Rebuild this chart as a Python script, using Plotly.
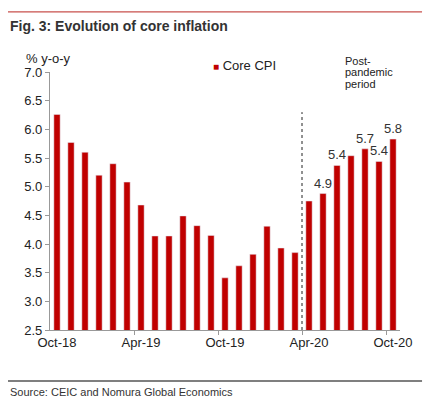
import plotly.graph_objects as go

# monthly core CPI, % y-o-y
months = ["Oct-18", "Nov-18", "Dec-18", "Jan-19", "Feb-19", "Mar-19", "Apr-19",
          "May-19", "Jun-19", "Jul-19", "Aug-19", "Sep-19", "Oct-19", "Nov-19",
          "Dec-19", "Jan-20", "Feb-20", "Mar-20", "Apr-20", "May-20", "Jun-20",
          "Jul-20", "Aug-20", "Sep-20", "Oct-20"]
core_cpi = [6.26, 5.77, 5.60, 5.20, 5.40, 5.08, 4.68, 4.14, 4.14, 4.49, 4.32, 4.15,
            3.41, 3.62, 3.82, 4.31, 3.93, 3.85, 4.75, 4.88, 5.37, 5.54, 5.66, 5.44, 5.83]
labelled = ["May-20", "Jun-20", "Aug-20", "Sep-20", "Oct-20"]
tick_labels = ["Oct-18", "Apr-19", "Oct-19", "Apr-20", "Oct-20"]
divider_month = "Apr-20"
divider_top = 6.3
period_note = ["Post-", "pandemic", "period"]

RED = "#C00000"
FONT = "Liberation Sans, Arial, sans-serif"

x = list(range(len(months)))
texts = [f"{v:.1f}" if m in labelled else "" for m, v in zip(months, core_cpi)]
tickvals = [months.index(m) for m in tick_labels]

fig = go.Figure()
fig.add_trace(go.Bar(
    x=x, y=core_cpi, name="Core CPI", marker_color=RED,
    text=texts, textposition="outside", cliponaxis=False, constraintext="none",
    textfont=dict(size=13, color="#333333"), showlegend=False,
))

xd = months.index(divider_month) - 0.5
fig.add_trace(go.Scatter(
    x=[xd, xd], y=[2.5, divider_top], mode="lines",
    line=dict(color="#222222", width=1, dash="dot"), showlegend=False,
    hoverinfo="skip",
))

annotations = [
    dict(text="<b>Fig. 3: Evolution of core inflation</b>", xref="paper", yref="paper",
         x=-0.12, y=1.18, xanchor="left", yanchor="middle", showarrow=False,
         font=dict(size=14, color="#333333")),
    dict(text="% y-o-y", xref="paper", yref="paper", x=-0.075, y=1.054,
         xanchor="left", yanchor="middle", showarrow=False, font=dict(size=13)),
    dict(text=f"<span style='color:{RED};font-size:10px'>■</span> Core CPI",
         xref="paper", yref="paper", x=0.46, y=1.027, xanchor="left",
         yanchor="middle", showarrow=False, font=dict(size=13)),
    dict(text="Source: CEIC and Nomura Global Economics", xref="paper", yref="paper",
         x=-0.12, y=-0.24, xanchor="left", yanchor="middle", showarrow=False,
         font=dict(size=11, color="#333333")),
]
for i, line in enumerate(period_note):
    annotations.append(dict(
        text=line, xref="paper", yref="paper", x=0.837, y=1.044 - i * 0.045,
        xanchor="left", yanchor="middle", showarrow=False, font=dict(size=11)))

fig.update_layout(
    width=440, height=416,
    margin=dict(l=50, r=40, t=72, b=86),
    paper_bgcolor="white", plot_bgcolor="white",
    font=dict(family=FONT, size=12, color="#222222"),
    bargap=0.55,
    xaxis=dict(
        range=[-0.5, len(months) - 0.5], tickvals=tickvals, ticktext=tick_labels,
        ticks="", showline=True, linecolor="#999999", linewidth=1.2,
        showgrid=False, zeroline=False, tickfont=dict(size=13),
        minor=dict(tickvals=[t - 0.5 for t in tickvals[1:]], ticks="outside",
                   ticklen=4, tickcolor="#999999", showgrid=False),
    ),
    yaxis=dict(
        range=[2.5, 7.0], dtick=0.5, tickformat=".1f",
        ticks="outside", ticklen=4, tickcolor="#999999",
        showline=True, linecolor="#999999", linewidth=1.2,
        showgrid=False, zeroline=False, tickfont=dict(size=13),
    ),
    shapes=[
        dict(type="line", xref="paper", yref="paper", x0=-0.12, x1=1.063,
             y0=1.233, y1=1.233, line=dict(color="#C8504D", width=1.2)),
        dict(type="line", xref="paper", yref="paper", x0=-0.12, x1=1.063,
             y0=-0.198, y1=-0.198, line=dict(color="#555555", width=1.5)),
    ],
    annotations=annotations,
)

fig.write_html("out.html", config={"displayModeBar": False},
               post_script="document.body.style.margin='0';")
